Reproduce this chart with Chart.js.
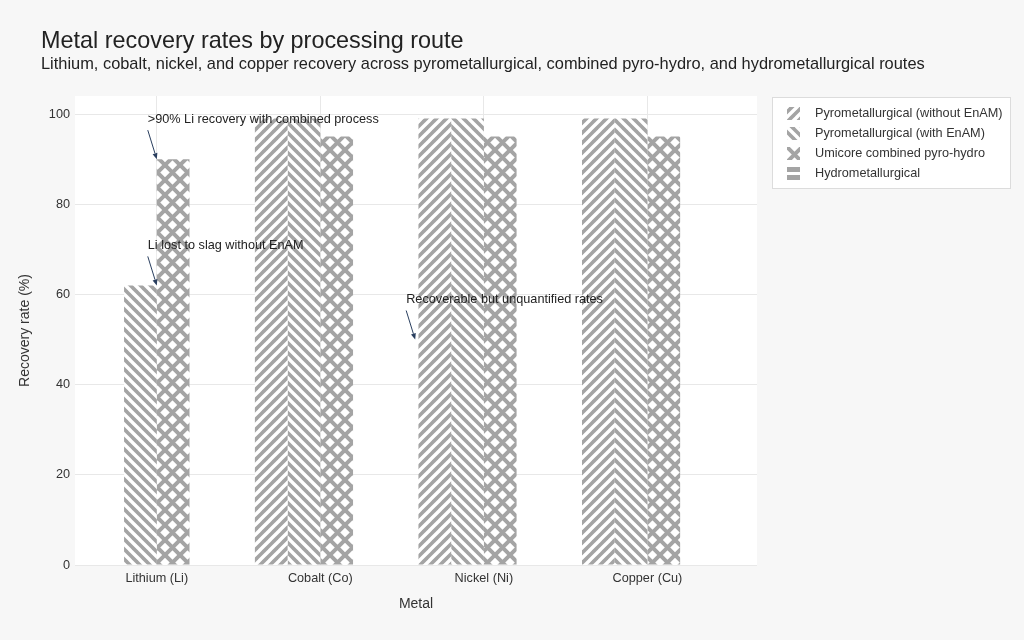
<!DOCTYPE html>
<html>
<head>
<meta charset="utf-8">
<script src="https://cdn.jsdelivr.net/npm/chart.js@4.4.1/dist/chart.umd.min.js"></script>
<style>
  html, body { margin: 0; padding: 0; background: #f7f7f7; }
  #wrap { width: 1024px; height: 640px; }
</style>
</head>
<body>
<div id="wrap"><canvas id="chart"></canvas></div>
<script>
const metals = ['Lithium (Li)', 'Cobalt (Co)', 'Nickel (Ni)', 'Copper (Cu)'];
const routes = ['Pyrometallurgical (without EnAM)', 'Pyrometallurgical (with EnAM)', 'Umicore combined pyro-hydro', 'Hydrometallurgical'];
const pyroWithout = [null, 99, 99, 99];
const pyroWith = [62, 99, 99, 99];
const umicore = [90, 95, 95, 95];
const hydro = [null, null, null, null];
const yTicks = [0, 20, 40, 60, 80, 100];
const notes = [
  { x: 0, y: 90, text: '>90% Li recovery with combined process' },
  { x: 0, y: 62, text: 'Li lost to slag without EnAM' },
  { x: 1.58, y: 50, text: 'Recoverable but unquantified rates' }
];
const title = 'Metal recovery rates by processing route';
const subtitle = 'Lithium, cobalt, nickel, and copper recovery across pyrometallurgical, combined pyro-hydro, and hydrometallurgical routes';

const FONT = '"Liberation Sans", Arial, sans-serif';
const GREY = '#a4a4a4';
Chart.defaults.font.family = FONT;

// pattern tiles
function tile(s, bg, draw) {
  const c = document.createElement('canvas');
  c.width = c.height = s;
  const g = c.getContext('2d');
  g.fillStyle = bg;
  g.fillRect(0, 0, s, s);
  draw(g, s);
  return document.createElement('canvas').getContext('2d').createPattern(c, 'repeat');
}
function fwd(g, s) { // "/"
  for (let k = 0; k <= 2; k++) {
    const c = k * s;
    g.moveTo(c + 1, -1); g.lineTo(c - s - 1, s + 1);
  }
}
function back(g, s) { // "\"
  for (let k = -1; k <= 1; k++) {
    const c = k * s;
    g.moveTo(c - 1, -1); g.lineTo(c + s + 1, s + 1);
  }
}
const patSlash = tile(10, GREY, (g, s) => { g.strokeStyle = '#fff'; g.lineWidth = 3.4; g.beginPath(); fwd(g, s); g.stroke(); });
const patBack = tile(10, GREY, (g, s) => { g.strokeStyle = '#fff'; g.lineWidth = 3.4; g.beginPath(); back(g, s); g.stroke(); });
const patCross = tile(15, '#fff', (g, s) => { g.strokeStyle = GREY; g.lineWidth = 4; g.beginPath(); fwd(g, s); back(g, s); g.stroke(); });
const patDash = tile(13, GREY, (g, s) => { g.fillStyle = '#fff'; g.fillRect(0, 5, s, 3); });
const patterns = [patSlash, patBack, patCross, patDash];

const series = [pyroWithout, pyroWith, umicore, hydro];

const decor = {
  id: 'decor',
  beforeDraw(chart) {
    const { ctx, chartArea: a } = chart;
    ctx.save();
    ctx.fillStyle = '#f7f7f7';
    ctx.fillRect(0, 0, chart.width, chart.height);
    ctx.fillStyle = '#fff';
    ctx.fillRect(a.left, a.top, a.right - a.left, a.bottom - a.top);
    ctx.fillStyle = '#222';
    ctx.textAlign = 'left';
    ctx.textBaseline = 'alphabetic';
    ctx.font = '23.4px ' + FONT;
    ctx.fillText(title, 41, 48);
    ctx.font = '16.4px ' + FONT;
    ctx.fillText(subtitle, 41, 69);
    ctx.restore();
  },
  afterDatasetsDraw(chart) {
    const { ctx, scales: { x, y } } = chart;
    ctx.save();
    notes.forEach(n => {
      const px = x.getPixelForValue(n.x), py = y.getPixelForValue(n.y);
      const tx = px - 9, ty = py - 29;
      const ang = Math.atan2(py - ty, px - tx);
      const hx = px - 6 * Math.cos(ang), hy = py - 6 * Math.sin(ang);
      ctx.strokeStyle = '#2a3f5f';
      ctx.fillStyle = '#2a3f5f';
      ctx.lineWidth = 1;
      ctx.beginPath(); ctx.moveTo(tx, ty); ctx.lineTo(hx, hy); ctx.stroke();
      ctx.beginPath();
      ctx.moveTo(px, py);
      ctx.lineTo(hx + 2.5 * Math.sin(ang), hy - 2.5 * Math.cos(ang));
      ctx.lineTo(hx - 2.5 * Math.sin(ang), hy + 2.5 * Math.cos(ang));
      ctx.closePath(); ctx.fill();
      ctx.fillStyle = '#222';
      ctx.font = '12.7px ' + FONT;
      ctx.textAlign = 'left';
      ctx.textBaseline = 'middle';
      ctx.fillText(n.text, px - 9, py - 40);
    });
    ctx.restore();
  },
  afterDraw(chart) {
    // legend box
    const ctx = chart.ctx;
    ctx.save();
    ctx.fillStyle = '#fff';
    ctx.strokeStyle = '#dcdcdc';
    ctx.lineWidth = 1;
    ctx.fillRect(772, 97, 238, 91);
    ctx.strokeRect(772.5, 97.5, 238, 91);
    chart.data.datasets.forEach((ds, i) => {
      const iy = 107 + 20 * i;
      ctx.save();
      ctx.translate(787, iy);
      ctx.fillStyle = ds.backgroundColor;
      ctx.fillRect(0, 0, 13, 13);
      ctx.restore();
      ctx.fillStyle = '#333';
      ctx.font = '12.7px ' + FONT;
      ctx.textAlign = 'left';
      ctx.textBaseline = 'middle';
      ctx.fillText(ds.label, 815, iy + 6.5);
    });
    ctx.restore();
  }
};

new Chart(document.getElementById('chart'), {
  type: 'bar',
  data: {
    datasets: routes.map((r, i) => ({
      label: r,
      data: series[i].map((v, j) => ({ x: j, y: v })),
      backgroundColor: patterns[i],
      borderWidth: 0,
      categoryPercentage: 0.8,
      barPercentage: 1.0
    }))
  },
  options: {
    responsive: true,
    maintainAspectRatio: false,
    animation: false,
    layout: { padding: { top: 96, right: 267, left: 0, bottom: 0 } },
    plugins: { legend: { display: false }, tooltip: { enabled: false } },
    scales: {
      x: {
        type: 'linear',
        min: -0.5,
        max: 3.67,
        offset: false,
        afterBuildTicks: s => { s.ticks = metals.map((m, i) => ({ value: i })); },
        afterFit: s => { s.height = 75; },
        ticks: {
          callback: v => metals[v],
          autoSkip: false,
          maxRotation: 0,
          padding: 6,
          color: '#333',
          font: { size: 12.7 }
        },
        grid: { color: '#e8e8e8', drawTicks: false, offset: false },
        border: { display: false },
        title: {
          display: true,
          text: 'Metal',
          color: '#333',
          font: { size: 14 },
          padding: { top: 0, bottom: 27 }
        }
      },
      y: {
        min: 0,
        max: 104,
        afterBuildTicks: s => { s.ticks = yTicks.map(v => ({ value: v })); },
        afterFit: s => { s.width = 75; },
        ticks: { padding: 5, color: '#333', font: { size: 12.7 } },
        grid: { color: '#e8e8e8', drawTicks: false },
        border: { display: false },
        title: {
          display: true,
          text: 'Recovery rate (%)',
          color: '#333',
          font: { size: 14 },
          padding: { top: 17, bottom: 0 }
        }
      }
    }
  },
  plugins: [decor]
});
</script>
</body>
</html>
